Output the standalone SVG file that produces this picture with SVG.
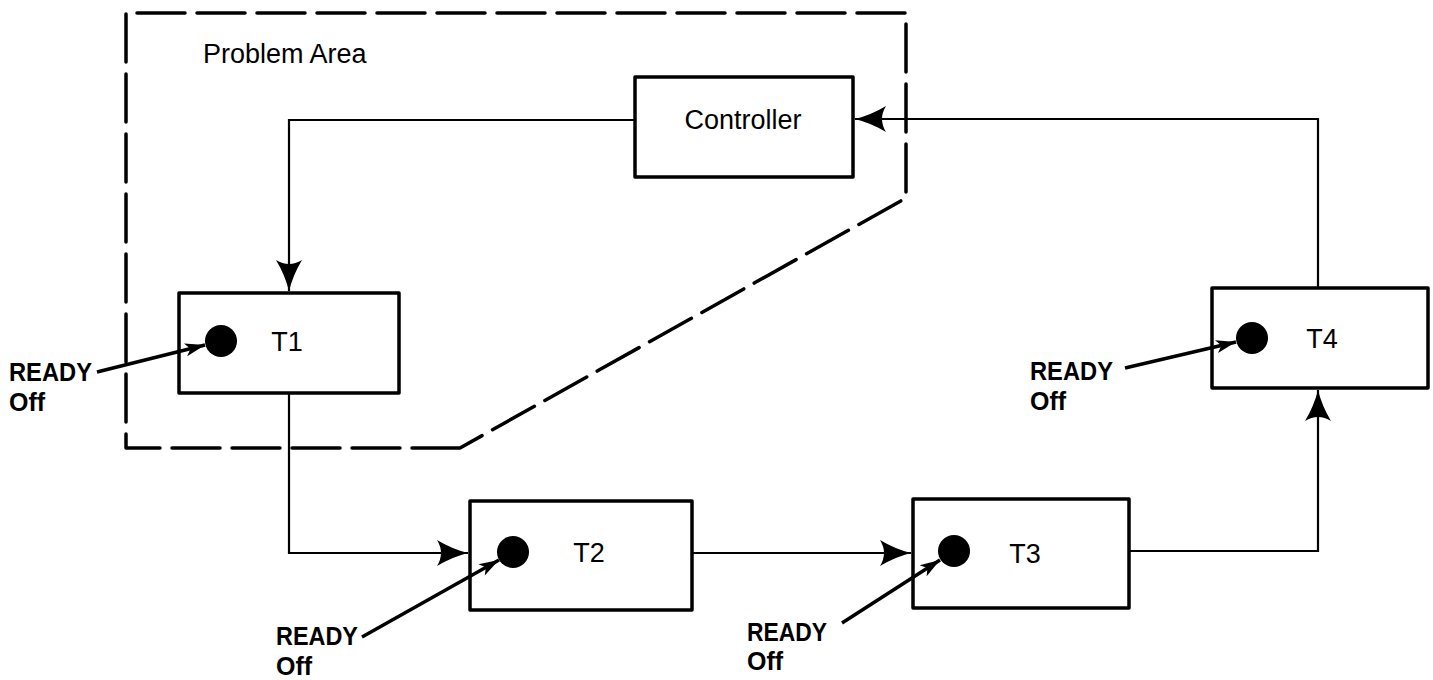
<svg xmlns="http://www.w3.org/2000/svg" width="1433" height="680" viewBox="0 0 1433 680">
<style>
.box{fill:#fff;stroke:#000;stroke-width:3.5;stroke-linejoin:round}
.conn{fill:none;stroke:#000;stroke-width:2.2}
.ready{fill:none;stroke:#000;stroke-width:3.5}
.lbl{font-family:"Liberation Sans",Arial,sans-serif;font-size:27px;fill:#000}
.rd{font-family:"Liberation Sans",Arial,sans-serif;font-size:25px;font-weight:bold;fill:#000}
.dash{fill:none;stroke:#000;stroke-width:3.5;stroke-dasharray:48 12;stroke-linecap:round;stroke-linejoin:round}
</style>
<defs>
<marker id="ah" markerUnits="userSpaceOnUse" markerWidth="34" markerHeight="30" viewBox="-32 -15 34 30" refX="0" refY="0" orient="auto">
<path d="M0,0 Q-16,-4 -31,-13 Q-23,0 -31,13 Q-16,4 0,0 Z" fill="#000"/>
</marker>
<marker id="sh" markerUnits="userSpaceOnUse" markerWidth="24" markerHeight="16" viewBox="-22 -8 24 16" refX="0" refY="0" orient="auto">
<path d="M0,0 L-20,-6.5 L-15,0 L-20,6.5 Z" fill="#000"/>
</marker>
</defs>
<g id="problem-area">
<path class="dash" d="M460,448 H126 V13 H906 V198 L460,448"/>
<text class="lbl" x="203" y="63">Problem Area</text>
</g>
<g id="connectors">
<path class="conn" d="M635,120 H289 V291" marker-end="url(#ah)"/>
<path class="conn" d="M289,393 V553 H468" marker-end="url(#ah)"/>
<path class="conn" d="M692,553 H911" marker-end="url(#ah)"/>
<path class="conn" d="M1129,551 H1318 V390" marker-end="url(#ah)"/>
<path class="conn" d="M1318,288 V119 H855" marker-end="url(#ah)"/>
</g>
<g id="controller">
<rect class="box" x="635" y="77" width="218" height="100"/>
<text class="lbl" x="743" y="129" text-anchor="middle">Controller</text>
</g>
<g id="t1">
<rect class="box" x="179" y="293" width="220" height="100"/>
<circle cx="221" cy="341" r="16"/>
<text class="lbl" x="287" y="351" text-anchor="middle">T1</text>
</g>
<g id="t2">
<rect class="box" x="470" y="501" width="222" height="109"/>
<circle cx="513" cy="552" r="16"/>
<text class="lbl" x="589" y="562" text-anchor="middle">T2</text>
</g>
<g id="t3">
<rect class="box" x="913" y="499" width="216" height="109"/>
<circle cx="954" cy="551" r="16"/>
<text class="lbl" x="1025" y="563" text-anchor="middle">T3</text>
</g>
<g id="t4">
<rect class="box" x="1212" y="288" width="216" height="100"/>
<circle cx="1252" cy="338" r="16"/>
<text class="lbl" x="1322" y="348" text-anchor="middle">T4</text>
</g>
<g id="ready-t1">
<line class="ready" x1="97" y1="372" x2="205" y2="345" marker-end="url(#sh)"/>
<text class="rd" x="9" y="381" textLength="83" lengthAdjust="spacingAndGlyphs">READY</text>
<text class="rd" x="9" y="411">Off</text>
</g>
<g id="ready-t2">
<line class="ready" x1="362" y1="637" x2="499" y2="560" marker-end="url(#sh)"/>
<text class="rd" x="276" y="645" textLength="82" lengthAdjust="spacingAndGlyphs">READY</text>
<text class="rd" x="276" y="675">Off</text>
</g>
<g id="ready-t3">
<line class="ready" x1="842" y1="623" x2="940" y2="560" marker-end="url(#sh)"/>
<text class="rd" x="747" y="641" textLength="80" lengthAdjust="spacingAndGlyphs">READY</text>
<text class="rd" x="747" y="670">Off</text>
</g>
<g id="ready-t4">
<line class="ready" x1="1125" y1="368" x2="1236" y2="342" marker-end="url(#sh)"/>
<text class="rd" x="1030" y="380" textLength="83" lengthAdjust="spacingAndGlyphs">READY</text>
<text class="rd" x="1030" y="410">Off</text>
</g>
</svg>
